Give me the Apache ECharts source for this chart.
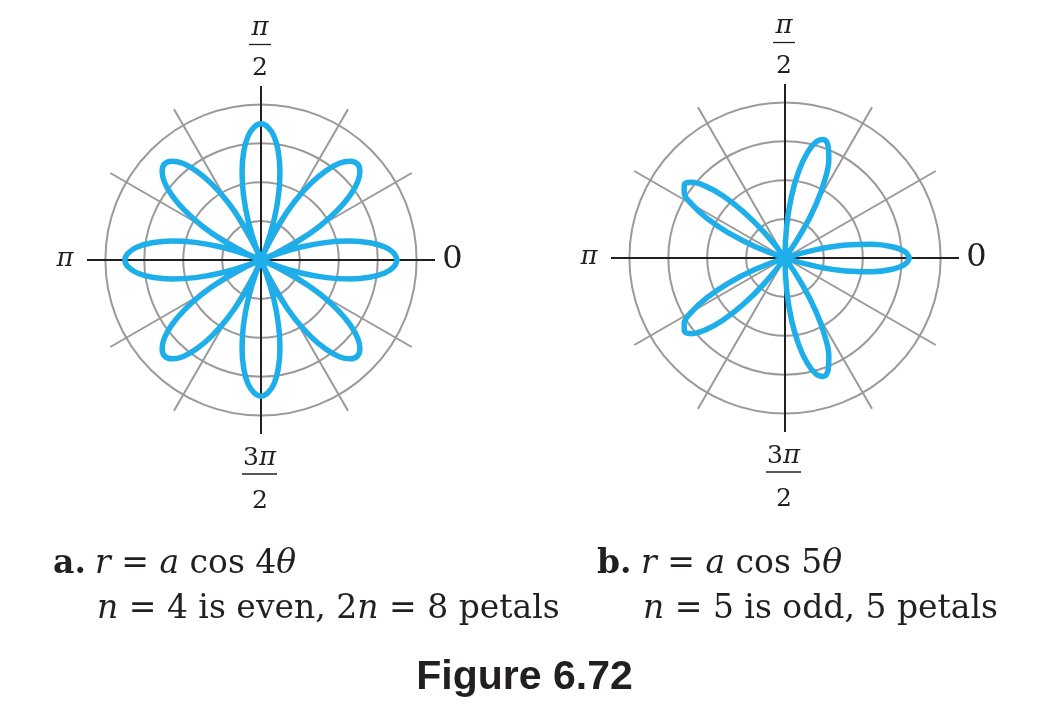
<!DOCTYPE html>
<html><head><meta charset="utf-8">
<script src="https://cdn.jsdelivr.net/npm/echarts@6/dist/echarts.min.js"></script>
<style>html,body{margin:0;padding:0;background:#fff}#c{width:1056px;height:728px}</style>
</head><body><div id="c"></div>
<script>
// ---- data ----
// ring values (radial grid), spoke angles every 30 degrees
const ringMax = 4;
const ringStep = 1;
const spokeStep = 30;
// r = a cos 4θ, a ≈ 3.5, sampled every 3 degrees from 0 to 360
const roseAStep = 3;
const roseA = [
  3.5, 3.42, 3.2, 2.83, 2.34, 1.75, 1.08, 0.37, -0.37, -1.08, -1.75, -2.34, -2.83, -3.2, -3.42,
  -3.5, -3.42, -3.2, -2.83, -2.34, -1.75, -1.08, -0.37, 0.37, 1.08, 1.75, 2.34, 2.83, 3.2, 3.42,
  3.5, 3.42, 3.2, 2.83, 2.34, 1.75, 1.08, 0.37, -0.37, -1.08, -1.75, -2.34, -2.83, -3.2, -3.42,
  -3.5, -3.42, -3.2, -2.83, -2.34, -1.75, -1.08, -0.37, 0.37, 1.08, 1.75, 2.34, 2.83, 3.2, 3.42,
  3.5, 3.42, 3.2, 2.83, 2.34, 1.75, 1.08, 0.37, -0.37, -1.08, -1.75, -2.34, -2.83, -3.2, -3.42,
  -3.5, -3.42, -3.2, -2.83, -2.34, -1.75, -1.08, -0.37, 0.37, 1.08, 1.75, 2.34, 2.83, 3.2, 3.42,
  3.5, 3.42, 3.2, 2.83, 2.34, 1.75, 1.08, 0.37, -0.37, -1.08, -1.75, -2.34, -2.83, -3.2, -3.42,
  -3.5, -3.42, -3.2, -2.83, -2.34, -1.75, -1.08, -0.37, 0.37, 1.08, 1.75, 2.34, 2.83, 3.2, 3.42,
  3.5
];
// r = a cos 5θ, a ≈ 3.2, sampled every 3 degrees from 0 to 180
const roseBStep = 3;
const roseB = [
  3.2, 3.09, 2.77, 2.26, 1.6, 0.83, 0, -0.83, -1.6, -2.26, -2.77, -3.09,
  -3.2, -3.09, -2.77, -2.26, -1.6, -0.83, 0, 0.83, 1.6, 2.26, 2.77, 3.09,
  3.2, 3.09, 2.77, 2.26, 1.6, 0.83, 0, -0.83, -1.6, -2.26, -2.77, -3.09,
  -3.2, -3.09, -2.77, -2.26, -1.6, -0.83, 0, 0.83, 1.6, 2.26, 2.77, 3.09,
  3.2, 3.09, 2.77, 2.26, 1.6, 0.83, 0, -0.83, -1.6, -2.26, -2.77, -3.09,
  -3.2
];
const angleLabels = { top: 'π/2', bottom: '3π/2', left: 'π', right: '0' };
const captionA = ['a.', '{i|r} = {i|a} cos 4{i|θ}', '{i|n} = 4 is even, 2{i|n} = 8 petals'];
const captionB = ['b.', '{i|r} = {i|a} cos 5{i|θ}', '{i|n} = 5 is odd, 5 petals'];
const figureTitle = 'Figure 6.72';

// ---- layout ----
const INK = '#231f20';
const GRID = '#9a9a9a';
const ROSE = '#1eaee9';
const SERIF = '"DejaVu Serif", "Liberation Serif", serif';
const CAP = 33;
const panels = [
  { cx: 261, cy: 260, data: roseA, step: roseAStep, cap: captionA, capX: [53, 95, 97] },
  { cx: 785, cy: 258, data: roseB, step: roseBStep, cap: captionB, capX: [597, 641, 643] }
];
const RING_R = 155.6, SPOKE_R = 174;

const toPolar = (r, deg) => (r >= 0 ? [r, deg] : [-r, deg + 180]);

const polar = [], angleAxis = [], radiusAxis = [], series = [], graphic = [];
const hidden = { axisLine: { show: false }, axisTick: { show: false }, axisLabel: { show: false } };

panels.forEach((p, k) => {
  const ringIdx = polar.length;
  polar.push({ center: [p.cx, p.cy], radius: RING_R });
  angleAxis.push(Object.assign({ polarIndex: ringIdx, type: 'value', min: 0, max: 360, startAngle: 0, clockwise: false, splitLine: { show: false }, z: 0 }, hidden));
  radiusAxis.push(Object.assign({ polarIndex: ringIdx, type: 'value', min: 0, max: ringMax, interval: ringStep, z: 0,
    splitLine: { show: true, lineStyle: { color: GRID, width: 2 } } }, hidden));
  const spokeIdx = polar.length;
  polar.push({ center: [p.cx, p.cy], radius: SPOKE_R });
  angleAxis.push(Object.assign({ polarIndex: spokeIdx, type: 'value', min: 0, max: 360, interval: spokeStep, startAngle: 0, clockwise: false, z: 1,
    splitLine: { show: true, lineStyle: { color: [INK, GRID, GRID], width: 2 } } }, hidden));
  radiusAxis.push(Object.assign({ polarIndex: spokeIdx, type: 'value', min: 0, max: 1, splitLine: { show: false }, z: 1 }, hidden));

  series.push({
    type: 'line', coordinateSystem: 'polar', polarIndex: ringIdx,
    data: p.data.map((r, i) => toPolar(r, i * p.step)),
    showSymbol: false, smooth: 0.4, clip: false, animation: false, z: 5,
    lineStyle: { color: ROSE, width: 5.5, join: 'round', cap: 'round' }
  });

  // angle labels
  const cx = p.cx, cy = p.cy;
  const txt = (x, y, text, size, style, extra) => graphic.push(Object.assign({
    type: 'text', x, y, silent: true,
    style: Object.assign({ text, fill: INK, fontFamily: SERIF, fontSize: size, fontStyle: style || 'normal', align: 'center', verticalAlign: 'middle' }, extra || {})
  }));
  const bar = (x1, x2, y) => graphic.push({ type: 'line', silent: true, shape: { x1, y1: y, x2, y2: y }, style: { stroke: INK, lineWidth: 1.3 } });
  // top π/2
  txt(cx - 1, cy - 232, 'π', 26, 'italic');
  bar(cx - 12, cx + 10, cy - 215.5);
  txt(cx - 1, cy - 192, '2', 25);
  // bottom 3π/2
  txt(cx - 1.5, cy + 198.5, '{n|3}{p|π}', 25, 'normal', { rich: { n: { fontFamily: SERIF, fontSize: 25, fill: INK }, p: { fontFamily: SERIF, fontSize: 26, fontStyle: 'italic', fill: INK } } });
  bar(cx - 19, cx + 16, cy + 214);
  txt(cx - 1, cy + 241, '2', 25);
  // left π, right 0
  txt(cx - 196, cy - 0.5, 'π', 26, 'italic');
  txt(cx + 191.5, cy, '0', 32);

  // captions
  const rich = { i: { fontFamily: SERIF, fontSize: CAP, fontStyle: 'italic', fill: INK } };
  graphic.push({ type: 'text', x: p.capX[0], y: 564, silent: true, style: { text: p.cap[0], fill: INK, fontFamily: SERIF, fontSize: CAP, fontWeight: 'bold', align: 'left', verticalAlign: 'middle' } });
  graphic.push({ type: 'text', x: p.capX[1], y: 564, silent: true, style: { text: p.cap[1], rich, fill: INK, fontFamily: SERIF, fontSize: CAP, align: 'left', verticalAlign: 'middle' } });
  graphic.push({ type: 'text', x: p.capX[2], y: 609, silent: true, style: { text: p.cap[2], rich, fill: INK, fontFamily: SERIF, fontSize: CAP, align: 'left', verticalAlign: 'middle' } });
});

graphic.push({ type: 'text', x: 524.5, y: 678, silent: true, style: { text: figureTitle, fill: INK, fontFamily: '"Liberation Sans", Arial, sans-serif', fontSize: 41, fontWeight: 'bold', align: 'center', verticalAlign: 'middle' } });

const chart = echarts.init(document.getElementById('c'), null, { renderer: 'canvas' });
chart.setOption({ backgroundColor: '#ffffff', animation: false, polar, angleAxis, radiusAxis, series, graphic });
</script></body></html>
